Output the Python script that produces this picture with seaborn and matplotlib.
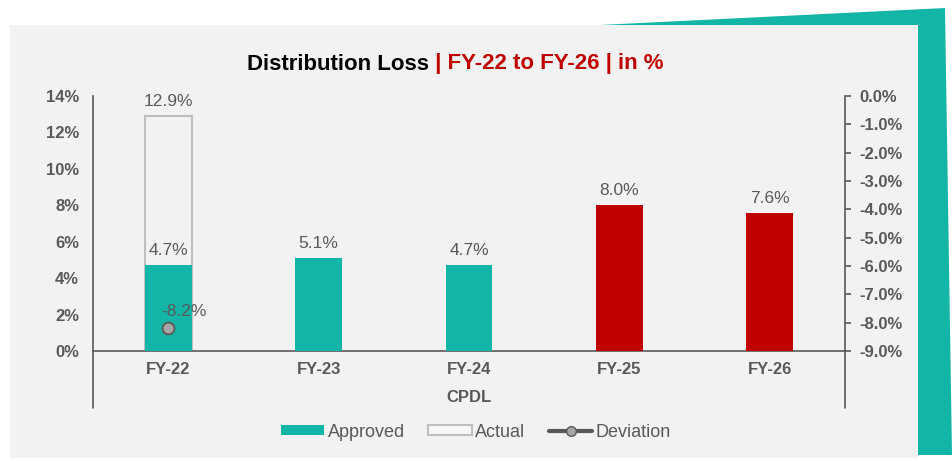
import matplotlib
matplotlib.use("Agg")
import matplotlib.pyplot as plt
import numpy as np
import pandas as pd
import seaborn as sns
from matplotlib.patches import Polygon, Rectangle, Patch
from matplotlib.lines import Line2D

# chart data
years = ["FY-22", "FY-23", "FY-24", "FY-25", "FY-26"]
approved = [4.7, 5.1, 4.7, 8.0, 7.6]
actual = [12.9, np.nan, np.nan, np.nan, np.nan]
deviation = [-8.2, np.nan, np.nan, np.nan, np.nan]
group_label = "CPDL"

TEAL = "#13B5A6"
RED = "#C00000"
INK = "#595959"
bar_colors = [TEAL, TEAL, TEAL, RED, RED]

sns.set_theme(style="white")
plt.rcParams["font.family"] = ["Liberation Sans", "DejaVu Sans"]

W, H = 952, 461
fig = plt.figure(figsize=(W / 100, H / 100), dpi=100, facecolor="white")

# decorative teal shape and grey panel (figure pixel coords -> fraction)
def fpx(pts):
    return [(x / W, 1 - y / H) for x, y in pts]

fig.patches.append(Polygon(fpx([(600, 25), (945, 8), (952, 455), (918, 455), (918, 25)]),
                           closed=True, transform=fig.transFigure, facecolor=TEAL,
                           edgecolor="none", zorder=-2))
fig.patches.append(Rectangle((10 / W, 1 - 458 / H), 908 / W, 433 / H,
                             transform=fig.transFigure, facecolor="#F2F2F2",
                             edgecolor="none", zorder=-1))

ax = fig.add_axes([93 / W, 1 - 351 / H, (845 - 93) / W, (351 - 96) / H])
ax.set_facecolor("none")

df = pd.DataFrame({"year": years, "approved": approved, "actual": actual})

sns.barplot(data=df, x="year", y="actual", fill=False, color="#BFBFBF", width=0.31,
            linewidth=1.5, ax=ax, zorder=2)
sns.barplot(data=df, x="year", y="approved", hue="year", palette=bar_colors,
            saturation=1, legend=False, width=0.31, linewidth=0, ax=ax, zorder=3)

# data labels on top of every bar
for bar in ax.patches:
    h = bar.get_height()
    if np.isnan(h) or h <= 0:
        continue
    ax.annotate(f"{h:.1f}%", (bar.get_x() + bar.get_width() / 2, h),
                xytext=(0, 5), textcoords="offset points", ha="center", va="bottom",
                color=INK, fontsize=12.5, zorder=5)

ax.set_ylim(0, 14)
ax.set_yticks(np.arange(0, 15, 2))
ax.set_yticklabels([f"{t}%" for t in range(0, 15, 2)])
ax.set_xlim(-0.5, len(years) - 0.5)
ax.tick_params(axis="y", length=0, pad=10, labelsize=12, labelcolor=INK)
ax.tick_params(axis="x", length=0, pad=8, labelsize=12, labelcolor=INK)
for lab in ax.get_xticklabels() + ax.get_yticklabels():
    lab.set_fontweight("bold")
ax.set_ylabel("")
ax.set_xlabel(group_label, fontsize=12, fontweight="bold", color=INK, labelpad=9)
for side in ["top", "right"]:
    ax.spines[side].set_visible(False)
for side in ["left", "bottom"]:
    ax.spines[side].set_color(INK)
    ax.spines[side].set_linewidth(1.2)
# extend axis lines below the category axis (multi-level label)
ax.plot([0, 0], [0, -0.225], transform=ax.transAxes, color=INK, lw=1.2, clip_on=False)
ax.plot([1, 1], [0, -0.225], transform=ax.transAxes, color=INK, lw=1.2, clip_on=False)

# secondary axis: deviation
ax2 = ax.twinx()
xpos = np.arange(len(years))
sns.lineplot(x=xpos, y=deviation, ax=ax2, color=INK, lw=3, marker="o", markersize=8.5,
             markerfacecolor="#A6A6A6", markeredgecolor=INK, markeredgewidth=1.3)
for x, v in zip(xpos, deviation):
    if not np.isnan(v):
        ax2.annotate(f"{v:.1f}%", (x, v), xytext=(11, 12), textcoords="offset points",
                     ha="center", va="center", color=INK, fontsize=12.5)
ax2.set_ylim(-9, 0)
ax2.set_yticks(np.arange(-9, 1, 1))
ax2.set_yticklabels([f"{t:.1f}%" for t in np.arange(-9, 1, 1)])
ax2.tick_params(axis="y", length=4, width=1.2, color=INK, pad=6, labelsize=12, labelcolor=INK)
for lab in ax2.get_yticklabels():
    lab.set_fontweight("bold")
for side in ["top", "left", "bottom"]:
    ax2.spines[side].set_visible(False)
ax2.spines["right"].set_color(INK)
ax2.spines["right"].set_linewidth(1.2)
ax2.set_xlim(-0.5, len(years) - 0.5)

# two-colour title
fig.canvas.draw()
r = fig.canvas.get_renderer()
t1 = fig.text(0, 1 - 64 / H, "Distribution Loss", fontsize=16, fontweight="bold",
              color="black", va="center", ha="left")
t2 = fig.text(0, 1 - 64 / H, " | FY-22 to FY-26 | in %", fontsize=16, fontweight="bold",
              color=RED, va="center", ha="left")
w1 = t1.get_window_extent(r).width
w2 = t2.get_window_extent(r).width
x0 = 455 - (w1 + w2) / 2
t1.set_x(x0 / W)
t2.set_x((x0 + w1) / W)

# legend
handles = [
    Patch(facecolor=TEAL, edgecolor="none", label="Approved"),
    Patch(facecolor="#F7F7F7", edgecolor="#BFBFBF", linewidth=1.5, label="Actual"),
    Line2D([0], [0], color=INK, lw=3, marker="o", markersize=7,
           markerfacecolor="#A6A6A6", markeredgecolor=INK, label="Deviation"),
]
leg = fig.legend(handles=handles, loc="center", bbox_to_anchor=(476 / W, 1 - 432 / H),
                 ncol=3, frameon=False, fontsize=13, handlelength=2.4, handleheight=0.5,
                 handletextpad=0.2, columnspacing=1.3)
for txt in leg.get_texts():
    txt.set_color(INK)

fig.savefig("out.png", dpi=100, facecolor="white")
